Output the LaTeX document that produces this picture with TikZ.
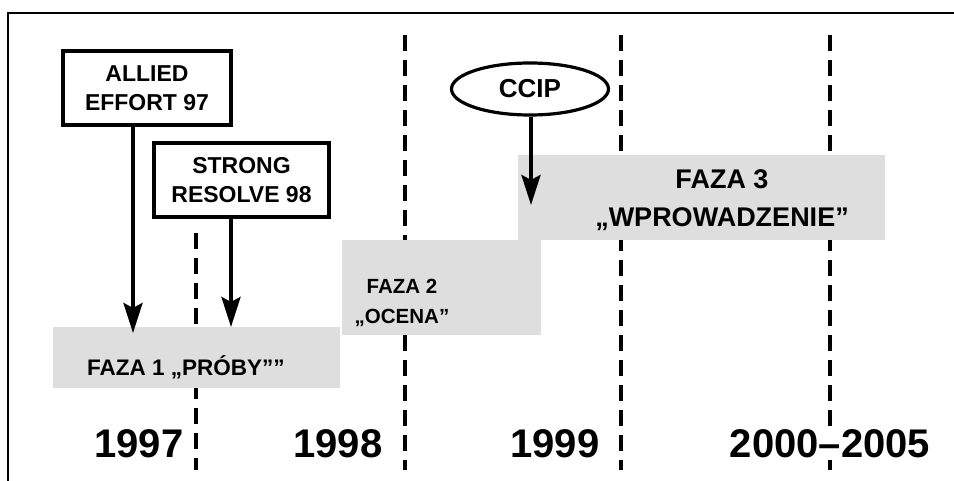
\documentclass[tikz,border=0pt]{standalone}
\usepackage{fontspec}
\setmainfont{Liberation Sans}
\usetikzlibrary{arrows.meta,shapes.geometric}
\begin{document}
\begin{tikzpicture}[x=1pt,y=-1pt,
  font=\bfseries,
  divider/.style={line width=3.8pt,dash pattern=on 16pt off 9pt},
  band/.style={fill=black!13,draw=none,inner sep=0pt},
  evbox/.style={draw,line width=3.2pt,rectangle,align=center,inner sep=0pt,
     font=\bfseries\fontsize{23}{29}\selectfont},
  arr/.style={line width=3.8pt,-{Stealth[length=30pt,width=19pt,inset=5pt]}},
  phasetext/.style={align=center,inner sep=0pt},
  year/.style={anchor=base,inner sep=1pt,font=\bfseries\fontsize{40}{40}\selectfont}]
\useasboundingbox (0,0) rectangle (954,481);
% frame (top and left only)
\draw[line width=1.8pt] (954,13) -- (8,13) -- (8,481);
% dashed year dividers
\coordinate (d1t) at (196,233); \coordinate (d1b) at (196,470);
\coordinate (d2t) at (405,35);  \coordinate (d2b) at (405,470);
\coordinate (d3t) at (621,35);  \coordinate (d3b) at (621,470);
\coordinate (d4t) at (830,35);  \coordinate (d4b) at (830,470);
\draw[divider] (d1t) -- (d1b);
\draw[divider] (d2t) -- (d2b);
\draw[divider] (d3t) -- (d3b);
\draw[divider] (d4t) -- (d4b);
% phase bands
\node[band,minimum width=287pt,minimum height=61pt] (b1) at (196.5,357.5) {};
\node[band,minimum width=199pt,minimum height=95pt] (b2) at (441.5,287.5) {};
\node[band,minimum width=367pt,minimum height=85pt] (b3) at (701.5,197.5) {};
\node[phasetext,font=\bfseries\fontsize{22.5}{30}\selectfont] (p1) at (186,367) {FAZA 1 „PRÓBY””};
\node[phasetext,font=\bfseries\fontsize{20.5}{30}\selectfont] (p2) at (402,303) {FAZA 2\\„OCENA”};
\node[phasetext,font=\bfseries\fontsize{27}{38}\selectfont] (p3) at (722,200) {FAZA 3\\„WPROWADZENIE”};
% events
\node[evbox,minimum width=168pt,minimum height=74pt] (ae) at (147,88) {ALLIED\\EFFORT 97};
\node[evbox,minimum width=175pt,minimum height=74pt] (sr) at (241.5,180) {STRONG\\RESOLVE 98};
\node[draw,ellipse,line width=3.2pt,minimum width=157pt,minimum height=52pt,inner sep=0pt,
      font=\bfseries\fontsize{26}{26}\selectfont] (cc) at (530,89) {CCIP};
\coordinate (ae1) at (133,333);
\coordinate (sr1) at (231,327);
\coordinate (cc1) at (531,205);
\draw[arr] (ae.south -| ae1) -- (ae1);
\draw[arr] (sr.south -| sr1) -- (sr1);
\draw[arr] (cc.south -| cc1) -- (cc1);
% years
\node[year] (y1) at (139,457) {1997};
\node[year] (y2) at (338,457) {1998};
\node[year] (y3) at (555,457) {1999};
\node[year,fill=white] (y4) at (830,457) {2000–2005};
\end{tikzpicture}
\end{document}
